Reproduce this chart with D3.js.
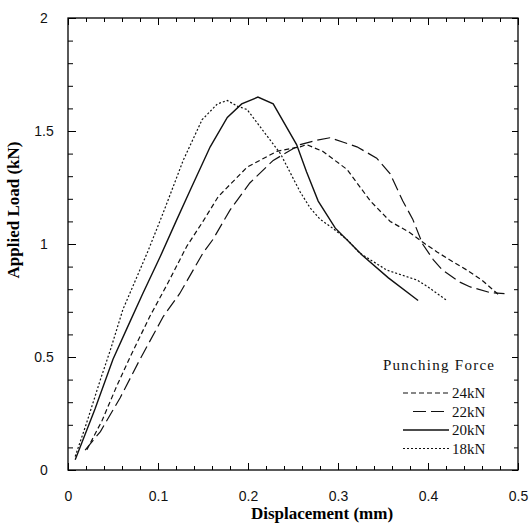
<!DOCTYPE html>
<html>
<head>
<meta charset="utf-8">
<script src="https://cdn.jsdelivr.net/npm/d3@7"></script>
<style>
  body { margin: 0; background: #fff; }
  svg { display: block; }
</style>
</head>
<body>
<svg id="chart" width="529" height="527"></svg>
<script>
// punching force series (displacement mm, load kN)
let x24 = [0.021, 0.038, 0.054, 0.069, 0.091, 0.11, 0.132, 0.15, 0.167, 0.199, 0.232, 0.258, 0.265, 0.283, 0.31, 0.336, 0.358, 0.38, 0.397, 0.41, 0.424, 0.443, 0.46, 0.48]
let y24 = [0.09, 0.22, 0.37, 0.50, 0.68, 0.82, 0.99, 1.10, 1.21, 1.34, 1.41, 1.43, 1.44, 1.41, 1.33, 1.19, 1.10, 1.05, 1.00, 0.965, 0.93, 0.885, 0.84, 0.77]

let x22 = [0.019, 0.036, 0.058, 0.08, 0.106, 0.124, 0.15, 0.161, 0.18, 0.202, 0.228, 0.258, 0.277, 0.291, 0.306, 0.321, 0.343, 0.358, 0.372, 0.383, 0.394, 0.406, 0.416, 0.436, 0.447, 0.469, 0.485]
let y22 = [0.088, 0.17, 0.32, 0.49, 0.68, 0.78, 0.96, 1.02, 1.15, 1.27, 1.37, 1.44, 1.46, 1.47, 1.45, 1.43, 1.38, 1.31, 1.19, 1.11, 1.00, 0.93, 0.885, 0.83, 0.81, 0.785, 0.78]

let x20 = [0.008, 0.03, 0.05, 0.067, 0.083, 0.102, 0.12, 0.136, 0.158, 0.177, 0.193, 0.211, 0.228, 0.254, 0.265, 0.278, 0.297, 0.327, 0.356, 0.389]
let y20 = [0.045, 0.27, 0.49, 0.64, 0.78, 0.94, 1.10, 1.24, 1.43, 1.56, 1.62, 1.65, 1.62, 1.44, 1.32, 1.19, 1.07, 0.95, 0.85, 0.75]

let x18 = [0.008, 0.02, 0.036, 0.047, 0.061, 0.075, 0.089, 0.106, 0.128, 0.149, 0.166, 0.177, 0.188, 0.199, 0.217, 0.236, 0.258, 0.269, 0.28, 0.294, 0.31, 0.324, 0.354, 0.388, 0.40, 0.421]
let y18 = [0.06, 0.2, 0.40, 0.53, 0.71, 0.84, 0.97, 1.14, 1.37, 1.55, 1.62, 1.635, 1.61, 1.595, 1.50, 1.40, 1.23, 1.16, 1.11, 1.07, 1.02, 0.96, 0.885, 0.84, 0.81, 0.75]

let seriesNames = ["24kN", "22kN", "20kN", "18kN"]
let seriesX = [x24, x22, x20, x18]
let seriesY = [y24, y22, y20, y18]
let dashes = ["5,3", "13,5", null, "2,2"]

let xTicks = [0, 0.1, 0.2, 0.3, 0.4, 0.5]
let yTicks = [0, 0.5, 1, 1.5, 2]

let svg = d3.select("#chart")
let padL = 68, padR = 518, padT = 18, padB = 470

let xscale = d3.scaleLinear().domain([0, 0.5]).range([padL, padR])
let yscale = d3.scaleLinear().domain([0, 2]).range([padB, padT])

let xMinor = d3.range(0, 0.5001, 0.02).filter(v => Math.abs(v * 10 - Math.round(v * 10)) > 1e-6)
let yMinor = d3.range(0, 2.001, 0.1).filter(v => Math.abs(v * 2 - Math.round(v * 2)) > 1e-6)
let fmt = d => String(+d.toFixed(2))

function clean(g) {
    g.select(".domain").remove()
    g.selectAll("line").attr("stroke", "#000").attr("stroke-width", 1)
}

// bottom axis with labels
let gb = svg.append("g")
    .attr("transform", "translate(0," + padB + ")")
    .call(d3.axisBottom(xscale).tickValues(xTicks).tickSize(-7).tickPadding(21).tickFormat(fmt))
gb.call(clean)
gb.selectAll("text").attr("font-family", "Liberation Sans, sans-serif").attr("font-size", 14).attr("fill", "#111")

svg.append("g").attr("transform", "translate(0," + padB + ")")
    .call(d3.axisBottom(xscale).tickValues(xMinor).tickSize(-4).tickFormat(""))
    .call(clean)

// top axis
svg.append("g").attr("transform", "translate(0," + padT + ")")
    .call(d3.axisTop(xscale).tickValues(xTicks).tickSize(-7).tickFormat(""))
    .call(clean)
svg.append("g").attr("transform", "translate(0," + padT + ")")
    .call(d3.axisTop(xscale).tickValues(xMinor).tickSize(-4).tickFormat(""))
    .call(clean)

// left axis with labels
let gl = svg.append("g")
    .attr("transform", "translate(" + padL + ",0)")
    .call(d3.axisLeft(yscale).tickValues(yTicks).tickSize(-8).tickPadding(24).tickFormat(fmt))
gl.call(clean)
gl.selectAll("text").attr("text-anchor", "middle").attr("font-family", "Liberation Sans, sans-serif").attr("font-size", 14).attr("fill", "#111")

svg.append("g").attr("transform", "translate(" + padL + ",0)")
    .call(d3.axisLeft(yscale).tickValues(yMinor).tickSize(-5).tickFormat(""))
    .call(clean)

// right axis
svg.append("g").attr("transform", "translate(" + padR + ",0)")
    .call(d3.axisRight(yscale).tickValues(yTicks).tickSize(-6).tickFormat(""))
    .call(clean)
svg.append("g").attr("transform", "translate(" + padR + ",0)")
    .call(d3.axisRight(yscale).tickValues(yMinor).tickSize(-4).tickFormat(""))
    .call(clean)

// frame
svg.append("rect")
    .attr("x", padL).attr("y", padT)
    .attr("width", padR - padL).attr("height", padB - padT)
    .attr("fill", "none").attr("stroke", "#000").attr("stroke-width", 1.3)

// curves
let line = d3.line().x(d => xscale(d[0])).y(d => yscale(d[1]))

seriesNames.forEach(function (name, i) {
    let pts = seriesX[i].map((v, j) => [v, seriesY[i][j]])
    svg.append("path")
        .datum(pts)
        .attr("d", line)
        .attr("fill", "none")
        .attr("stroke", "#111")
        .attr("stroke-width", i == 2 ? 1.4 : 1.2)
        .attr("stroke-dasharray", dashes[i])
})

// legend
let legend = svg.append("g").attr("font-family", "Liberation Serif, serif").attr("fill", "#111")
legend.append("text")
    .attr("x", 383).attr("y", 370)
    .attr("font-size", 15)
    .attr("textLength", 111)
    .text("Punching Force")

seriesNames.forEach(function (name, i) {
    let yy = 393 + i * 18.5
    legend.append("line")
        .attr("x1", i == 1 ? 413 : 403).attr("x2", 449)
        .attr("y1", yy).attr("y2", yy)
        .attr("stroke", "#111")
        .attr("stroke-width", i == 2 ? 1.5 : 1.2)
        .attr("stroke-dasharray", dashes[i])
    legend.append("text")
        .attr("x", 452).attr("y", yy + 5)
        .attr("font-size", 15)
        .text(name)
})

// axis titles
svg.append("text")
    .attr("x", 322).attr("y", 519)
    .attr("text-anchor", "middle")
    .attr("font-family", "Liberation Serif, serif")
    .attr("font-weight", "bold")
    .attr("font-size", 17)
    .text("Displacement (mm)")

svg.append("text")
    .attr("transform", "translate(19,210) rotate(-90)")
    .attr("text-anchor", "middle")
    .attr("font-family", "Liberation Serif, serif")
    .attr("font-weight", "bold")
    .attr("font-size", 17)
    .text("Applied Load (kN)")
</script>
</body>
</html>
